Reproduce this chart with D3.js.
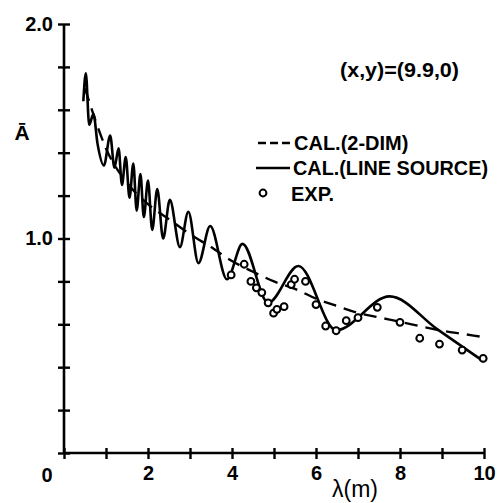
<!DOCTYPE html>
<html><head><meta charset="utf-8">
<script src="https://cdn.jsdelivr.net/npm/d3@7"></script>
<style>
html,body{margin:0;padding:0;background:#fff;}
svg{display:block;}
text{font-family:"Liberation Sans",Arial,sans-serif;fill:#000;}
</style></head>
<body>
<script>
// ---- data ----
const dimX = [0.5,0.75,1,1.5,2,2.5,3,3.5,4,4.5,5,5.5,6,6.5,7,7.5,8,8.5,9,9.5,10];
const dimY = [1.70,1.55,1.42,1.26,1.16,1.09,1.02,0.96,0.895,0.845,0.80,0.765,0.72,0.685,0.653,0.632,0.612,0.59,0.57,0.555,0.54];

const lineX = [0.46,0.52,0.60,0.70,0.80,0.95,1.10,1.20,1.30,1.38,1.47,1.56,1.65,1.73,1.82,1.90,2.00,2.10,2.22,2.36,2.52,2.76,2.96,3.20,3.48,3.88,4.25,4.86,5.58,6.48,7.75,8.90,10.0];
const lineY = [1.64,1.77,1.53,1.58,1.44,1.34,1.48,1.33,1.42,1.25,1.38,1.19,1.35,1.13,1.30,1.10,1.27,1.04,1.23,1.00,1.18,0.96,1.125,0.885,1.058,0.81,0.975,0.70,0.872,0.573,0.73,0.575,0.426];

const expX = [3.98,4.29,4.45,4.58,4.71,4.86,4.99,5.07,5.24,5.41,5.49,5.75,6.0,6.23,6.48,6.72,7.0,7.46,8.0,8.47,8.94,9.48,9.98];
const expY = [0.83,0.88,0.80,0.77,0.748,0.70,0.652,0.67,0.682,0.785,0.81,0.80,0.692,0.592,0.57,0.617,0.631,0.679,0.609,0.535,0.508,0.48,0.441];

const xTicks = [0,1,2,3,4,5,6,7,8,9,10];
const yTicks = [0,0.2,0.4,0.6,0.8,1.0,1.2,1.4,1.6,1.8,2.0];
const xLabels = {2:"2",4:"4",6:"6",8:"8",10:"10"};
const yLabels = {1:"1.0",2:"2.0"};
const legendItems = ["CAL.(2-DIM)","CAL.(LINE SOURCE)","EXP."];
const annotation = "(x,y)=(9.9,0)";

// ---- drawing ----
const W = 497, H = 503;
const svg = d3.select("body").append("svg").attr("width",W).attr("height",H);
const x = d3.scaleLinear().domain([0,10]).range([64,484]);
const y = d3.scaleLinear().domain([0,2]).range([453,24]);

const fs = 20;

// y axis
const gy = svg.append("g").attr("transform",`translate(${x(0)},0)`)
  .call(d3.axisLeft(y).tickValues(yTicks).tickSize(6).tickPadding(5)
    .tickFormat(d => yLabels[Math.round(d*10)/10] || ""));
svg.append("g").attr("transform",`translate(${x(0)},0)`)
  .call(d3.axisRight(y).tickValues(yTicks).tickSize(6).tickFormat(""))
  .select(".domain").remove();
// x axis
const gx = svg.append("g").attr("transform",`translate(0,${y(0)})`)
  .call(d3.axisBottom(x).tickValues(xTicks).tickSize(6).tickPadding(7)
    .tickFormat(d => xLabels[d] || ""));
svg.append("g").attr("transform",`translate(0,${y(0)})`)
  .call(d3.axisTop(x).tickValues(xTicks).tickSize(5).tickFormat(""))
  .select(".domain").remove();

svg.selectAll(".domain").attr("stroke","#000").attr("stroke-width",2.6);
svg.selectAll(".tick line").attr("stroke","#000").attr("stroke-width",2.4);
svg.selectAll(".tick text").attr("font-size",fs).attr("font-weight","bold")
  .attr("font-family","Liberation Sans, Arial, sans-serif").attr("fill","#000");
gy.select(".domain").attr("d",`M0,${y(2)}V${y(0)}`);
gx.select(".domain").attr("d",`M${x(0)},0H${x(10)}`);

// origin label
svg.append("text").attr("x",47).attr("y",482).attr("text-anchor","middle")
  .attr("font-size",fs).attr("font-weight","bold").text("0");

// axis titles
svg.append("text").attr("x",355).attr("y",497).attr("text-anchor","middle")
  .attr("font-size",23).text("λ(m)");
svg.append("text").attr("x",22).attr("y",140).attr("text-anchor","middle")
  .attr("font-size",21).attr("font-weight","bold").text("A\u0304");

// dashed 2-dim curve
const dimData = dimX.map((v,i)=>[v,dimY[i]]);
svg.append("path").datum(dimData)
  .attr("fill","none").attr("stroke","#000").attr("stroke-width",2.4)
  .attr("stroke-dasharray","13,8")
  .attr("d", d3.line().x(d=>x(d[0])).y(d=>y(d[1])).curve(d3.curveMonotoneX));

// solid line-source curve
const lineData = lineX.map((v,i)=>[v,lineY[i]]);
svg.append("path").datum(lineData)
  .attr("fill","none").attr("stroke","#000").attr("stroke-width",2.6)
  .attr("stroke-linejoin","round")
  .attr("d", d3.line().x(d=>x(d[0])).y(d=>y(d[1])).curve(d3.curveMonotoneX));

// experiment circles
const expData = expX.map((v,i)=>[v,expY[i]]);
svg.append("g").selectAll("circle").data(expData).join("circle")
  .attr("cx",d=>x(d[0])).attr("cy",d=>y(d[1])).attr("r",3.4)
  .attr("fill","#fff").attr("stroke","#000").attr("stroke-width",2);

// annotation
svg.append("text").attr("x",340).attr("y",77).attr("font-size",fs)
  .attr("font-weight","bold").attr("textLength",119).attr("lengthAdjust","spacingAndGlyphs")
  .text(annotation);

// legend
const lg = svg.append("g");
lg.append("line").attr("x1",258).attr("x2",290).attr("y1",143).attr("y2",143)
  .attr("stroke","#000").attr("stroke-width",2.4).attr("stroke-dasharray","8,4");
lg.append("line").attr("x1",256).attr("x2",290).attr("y1",168).attr("y2",168)
  .attr("stroke","#000").attr("stroke-width",2.6);
lg.append("circle").attr("cx",263).attr("cy",193).attr("r",3.4)
  .attr("fill","#fff").attr("stroke","#000").attr("stroke-width",2);
const lens = [null,195,null];
const ys = [150,175,201];
const xs = [294,293,291];
legendItems.forEach((t,i)=>{
  const tx = lg.append("text").attr("x",xs[i]).attr("y",ys[i]).attr("font-size",fs)
    .attr("font-weight","bold").text(t);
  if(lens[i]) tx.attr("textLength",lens[i]).attr("lengthAdjust","spacingAndGlyphs");
});
</script>
</body></html>
